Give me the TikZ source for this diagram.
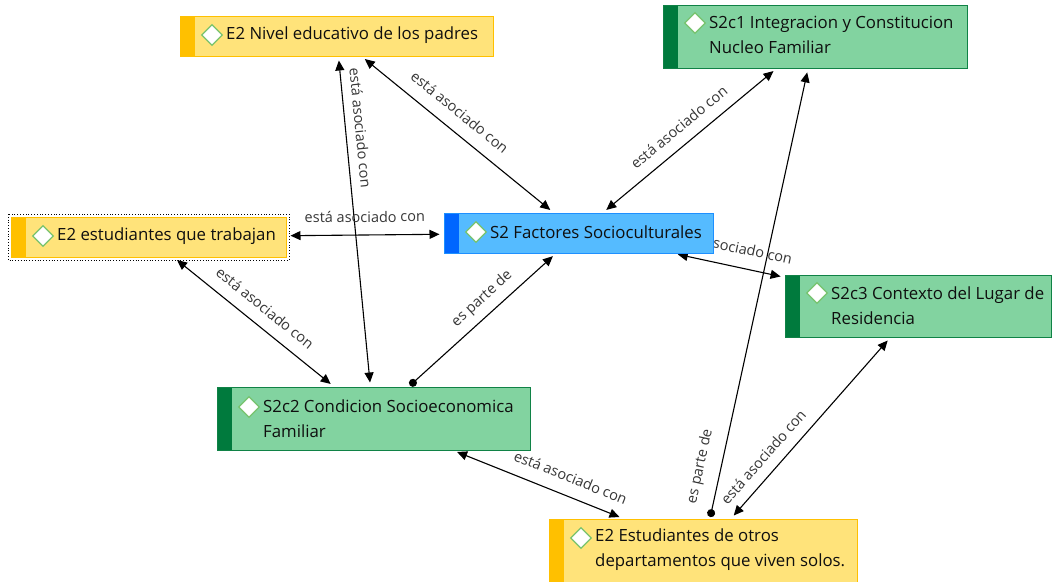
\documentclass[tikz,border=0pt]{standalone}
\usepackage{fontspec}
\setmainfont{Open Sans}
\usetikzlibrary{arrows.meta,shapes.geometric}
\pgfdeclarelayer{background}
\pgfsetlayers{background,main}
\definecolor{barYellow}{RGB}{255,192,0}
\definecolor{fillYellow}{RGB}{255,227,122}
\definecolor{lineYellow}{RGB}{255,192,0}
\definecolor{barGreen}{RGB}{0,122,61}
\definecolor{fillGreen}{RGB}{130,211,160}
\definecolor{lineGreen}{RGB}{16,130,70}
\definecolor{barBlue}{RGB}{0,102,255}
\definecolor{fillBlue}{RGB}{85,187,255}
\definecolor{lineBlue}{RGB}{30,144,255}
\definecolor{diamGreen}{RGB}{120,195,110}
\definecolor{lblc}{RGB}{55,55,55}
\definecolor{txtc}{RGB}{15,15,15}
\begin{document}
\begin{tikzpicture}[x=1pt,y=1pt,
  box/.style={rectangle, inner sep=0pt, line width=1pt},
  ybox/.style={box, fill=fillYellow, draw=lineYellow,
    path picture={\fill[fill=barYellow] (path picture bounding box.north west) rectangle ([xshift=15pt]path picture bounding box.south west);}},
  gbox/.style={box, fill=fillGreen, draw=lineGreen,
    path picture={\fill[fill=barGreen] (path picture bounding box.north west) rectangle ([xshift=15pt]path picture bounding box.south west);}},
  bbox/.style={box, fill=fillBlue, draw=lineBlue,
    path picture={\fill[fill=barBlue] (path picture bounding box.north west) rectangle ([xshift=15pt]path picture bounding box.south west);}},
  btxt/.style={anchor=west, inner sep=0pt, align=left, text=txtc, font=\fontsize{16.8}{24.5}\selectfont},
  icon/.style={diamond, draw=diamGreen, fill=white, line width=1.3pt, minimum width=21pt, minimum height=21pt, inner sep=0pt},
  conn/.style={draw=black, line width=1.1pt, shorten >=4pt, shorten <=4pt},
  both/.style={conn, {Triangle[length=10pt,width=9pt]}-{Triangle[length=10pt,width=9pt]}},
  part/.style={conn, shorten <=1.5pt, {Circle[length=8pt]}-{Triangle[length=10pt,width=9pt]}},
  lbl/.style={sloped, inner sep=0pt, text=lblc, font=\fontsize{14.5}{16}\selectfont}
]
\useasboundingbox (0,0) rectangle (1052,-581);

% boxes
\node[ybox, minimum width=313pt, minimum height=40pt] (niv) at (336.5,-36) {};
\node[gbox, minimum width=304pt, minimum height=63pt] (s2c1) at (815,-36.5) {};
\node[ybox, minimum width=275pt, minimum height=40pt] (est) at (148.5,-237) {};
\draw[dotted, line width=0.8pt] (8,-214) rectangle (289,-260);
\node[bbox, minimum width=269pt, minimum height=40pt] (s2) at (578.5,-233) {};
\node[gbox, minimum width=266pt, minimum height=62pt] (s2c3) at (918,-306) {};
\node[gbox, minimum width=313pt, minimum height=63pt] (s2c2) at (373.5,-418.5) {};
\node[ybox, minimum width=308pt, minimum height=63pt] (otros) at (703,-550.5) {};

% texts
\node[btxt] (tniv) at (226,-35) {E2 Nivel educativo de los padres};
\node[btxt] (ts2c1) at (709,-35) {S2c1 Integracion y Constitucion\\Nucleo Familiar};
\node[btxt] (test) at (57,-236) {E2 estudiantes que trabajan};
\node[btxt] (ts2) at (490,-232) {S2 Factores Socioculturales};
\node[btxt] (ts2c3) at (831,-305.5) {S2c3 Contexto del Lugar de\\Residencia};
\node[btxt] (ts2c2) at (263,-418.5) {S2c2 Condicion Socioeconomica\\Familiar};
\node[btxt] (totros) at (595,-549.5) {E2 Estudiantes de otros\\departamentos que viven solos.};

% icons
\node[icon] (iniv) at (212,-35) {};
\node[icon] (is2c1) at (695,-23) {};
\node[icon] (iest) at (43,-236) {};
\node[icon] (is2) at (476,-232) {};
\node[icon] (is2c3) at (817,-293) {};
\node[icon] (is2c2) at (249,-407) {};
\node[icon] (iotros) at (581,-538) {};

% connectors
\begin{pgfonlayer}{background}
\fill[white] (0,0) rectangle (1052,-581);
\draw[both] (niv) -- node[lbl, pos=0.45, above=12.7pt] {está asociado con} (s2);
\draw[both] (niv) -- node[lbl, pos=0.22, above=9pt] {está asociado con} (s2c2);
\draw[both] (est) -- node[lbl, pos=0.5, above=12pt] {está asociado con} (s2);
\draw[both] (est) -- node[lbl, pos=0.5, above=11.8pt] {está asociado con} (s2c2);
\draw[part] (s2c2) -- node[lbl, pos=0.57, above=7.9pt] {es parte de} (s2);
\draw[both] (s2) -- node[lbl, pos=0.5, above=11.1pt] {está asociado con} (s2c1);
\draw[both] (s2) -- node[lbl, pos=0.5, above=13pt] {está asociado con} (s2c3);
\draw[part] (otros) -- node[lbl, pos=0.106, above=12.75pt] {es parte de} (s2c1);
\draw[both] (otros) -- node[lbl, pos=0.28, above=10.4pt] {está asociado con} (s2c3);
\draw[both] (s2c2) -- node[lbl, pos=0.65, above=12.5pt] {está asociado con} (otros);
\end{pgfonlayer}
\end{tikzpicture}
\end{document}
